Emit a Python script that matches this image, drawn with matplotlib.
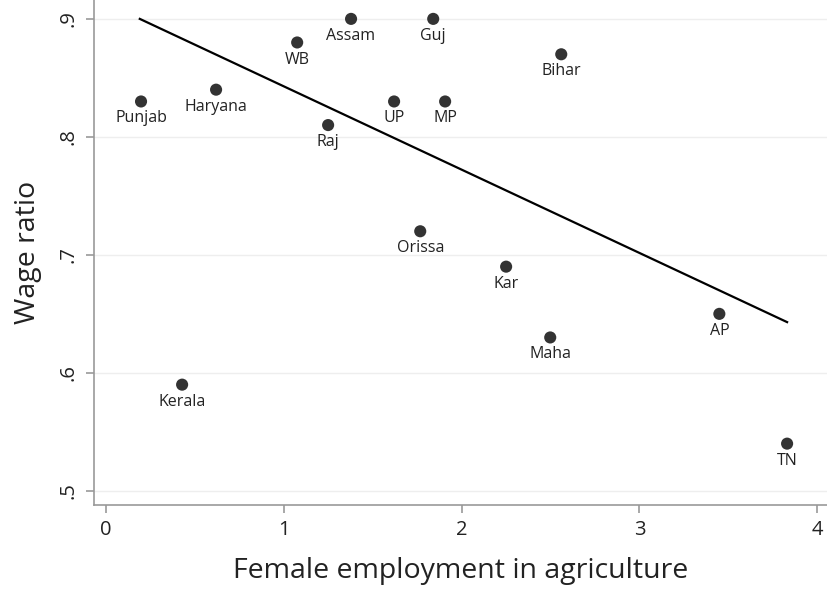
import matplotlib
matplotlib.use("Agg")
import matplotlib.pyplot as plt
import numpy as np

# data
states = ["Punjab", "Haryana", "Kerala", "WB", "Raj", "Assam", "UP", "Orissa",
          "Guj", "MP", "Kar", "Maha", "Bihar", "AP", "TN"]
female_emp = [0.197, 0.619, 0.428, 1.075, 1.249, 1.378, 1.62, 1.767,
              1.84, 1.907, 2.25, 2.498, 2.56, 3.449, 3.83]
wage_ratio = [0.83, 0.84, 0.59, 0.88, 0.81, 0.90, 0.83, 0.72,
              0.90, 0.83, 0.69, 0.63, 0.87, 0.65, 0.54]

# fitted line end points
fit_x = [0.19, 3.83]
fit_y = [0.90, 0.643]

xticks = [0, 1, 2, 3, 4]
yticks = [0.5, 0.6, 0.7, 0.8, 0.9]
ytick_labels = [".5", ".6", ".7", ".8", ".9"]

plt.rcParams['font.family'] = ['Open Sans', 'DejaVu Sans']

fig = plt.figure(figsize=(8.28, 5.9), dpi=100)
ax = fig.add_axes([94 / 828, 1 - 505 / 590, 1 - 94 / 828, 505 / 590])

ax.set_xlim(-0.0675, 4.06)
ax.set_ylim(0.488, 0.916)

for yv in yticks:
    ax.axhline(yv, color='#eeeeee', linewidth=1.0, zorder=0)

ax.plot(fit_x, fit_y, color='black', linewidth=1.6, zorder=2)
ax.scatter(female_emp, wage_ratio, s=76, color='#333333', zorder=3,
           edgecolors='none')

for name, xv, yv in zip(states, female_emp, wage_ratio):
    ax.annotate(name, (xv, yv), xytext=(0, -6.5), textcoords='offset points',
                ha='center', va='top', fontsize=11.5, color='#222222')

ax.set_xticks(xticks)
ax.set_xticklabels([str(t) for t in xticks])
ax.set_yticks(yticks)
ax.set_yticklabels(ytick_labels, rotation=90, va='center')

for side in ['top', 'right']:
    ax.spines[side].set_visible(False)
for side in ['left', 'bottom']:
    ax.spines[side].set_color('#999999')
    ax.spines[side].set_linewidth(1.2)

ax.tick_params(axis='both', colors='#999999', length=6, width=1.2,
               labelsize=14.5, labelcolor='#222222', pad=5)

ax.set_xlabel("Female employment in agriculture", fontsize=20.5, labelpad=12,
              color='#222222')
ax.set_ylabel("Wage ratio", fontsize=20.5, labelpad=12, color='#222222')

fig.savefig("out.png", dpi=100)
